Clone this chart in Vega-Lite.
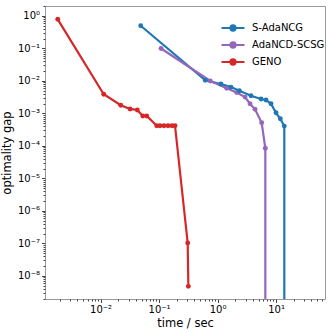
{
  "$schema": "https://vega.github.io/schema/vega-lite/v6.json",
  "autosize": "none",
  "width": 280,
  "height": 293,
  "padding": {"left": 45, "top": 6, "right": 7, "bottom": 33},
  "background": "white",
  "config": {
    "font": "DejaVu Sans",
    "view": {"stroke": "#999", "strokeWidth": 1},
    "axis": {
      "domain": false,
      "grid": false,
      "labelFont": "DejaVu Sans",
      "labelFontSize": 10,
      "labelColor": "#000",
      "titleFont": "DejaVu Sans",
      "titleFontSize": 11.5,
      "titleFontWeight": "normal",
      "titleColor": "#000",
      "tickColor": "#444",
      "labelOverlap": false,
      "labelFlush": false
    },
    "legend": {"labelFont": "DejaVu Sans", "labelFontSize": 10, "labelColor": "#000"}
  },
  "data": {
    "values": [
      {"series": "S-AdaNCG", "i": 1, "time": 0.0485, "gap": 0.5},
      {"series": "S-AdaNCG", "i": 2, "time": 0.616, "gap": 0.0105},
      {"series": "S-AdaNCG", "i": 3, "time": 1.14, "gap": 0.0081},
      {"series": "S-AdaNCG", "i": 4, "time": 1.69, "gap": 0.0065},
      {"series": "S-AdaNCG", "i": 5, "time": 2.35, "gap": 0.005},
      {"series": "S-AdaNCG", "i": 6, "time": 3.72, "gap": 0.0035},
      {"series": "S-AdaNCG", "i": 7, "time": 5.52, "gap": 0.0028},
      {"series": "S-AdaNCG", "i": 8, "time": 6.72, "gap": 0.0026},
      {"series": "S-AdaNCG", "i": 9, "time": 8.18, "gap": 0.002},
      {"series": "S-AdaNCG", "i": 10, "time": 9.96, "gap": 0.00105},
      {"series": "S-AdaNCG", "i": 11, "time": 11.8, "gap": 0.00069},
      {"series": "S-AdaNCG", "i": 12, "time": 13.8, "gap": 0.00041},
      {"series": "S-AdaNCG", "i": 13, "time": 13.8, "gap": 1e-12},
      {"series": "AdaNCD-SCSG", "i": 1, "time": 0.108, "gap": 0.1},
      {"series": "AdaNCD-SCSG", "i": 2, "time": 0.75, "gap": 0.01},
      {"series": "AdaNCD-SCSG", "i": 3, "time": 1.43, "gap": 0.006},
      {"series": "AdaNCD-SCSG", "i": 4, "time": 2.12, "gap": 0.0044},
      {"series": "AdaNCD-SCSG", "i": 5, "time": 2.94, "gap": 0.0032},
      {"series": "AdaNCD-SCSG", "i": 6, "time": 3.58, "gap": 0.002},
      {"series": "AdaNCD-SCSG", "i": 7, "time": 4.36, "gap": 0.00135},
      {"series": "AdaNCD-SCSG", "i": 8, "time": 5.67, "gap": 0.00052},
      {"series": "AdaNCD-SCSG", "i": 9, "time": 6.54, "gap": 0.000085},
      {"series": "AdaNCD-SCSG", "i": 10, "time": 6.54, "gap": 1e-12},
      {"series": "GENO", "i": 1, "time": 0.00185, "gap": 0.79},
      {"series": "GENO", "i": 2, "time": 0.0113, "gap": 0.0039},
      {"series": "GENO", "i": 3, "time": 0.0221, "gap": 0.0018},
      {"series": "GENO", "i": 4, "time": 0.0318, "gap": 0.00138},
      {"series": "GENO", "i": 5, "time": 0.0424, "gap": 0.00128},
      {"series": "GENO", "i": 6, "time": 0.0525, "gap": 0.00084},
      {"series": "GENO", "i": 7, "time": 0.0614, "gap": 0.00084},
      {"series": "GENO", "i": 8, "time": 0.091, "gap": 0.00042},
      {"series": "GENO", "i": 9, "time": 0.1036, "gap": 0.00042},
      {"series": "GENO", "i": 10, "time": 0.121, "gap": 0.00042},
      {"series": "GENO", "i": 11, "time": 0.142, "gap": 0.00042},
      {"series": "GENO", "i": 12, "time": 0.166, "gap": 0.00042},
      {"series": "GENO", "i": 13, "time": 0.187, "gap": 0.00042},
      {"series": "GENO", "i": 14, "time": 0.308, "gap": 1.04e-7},
      {"series": "GENO", "i": 15, "time": 0.316, "gap": 4.8e-9}
    ]
  },
  "encoding": {
    "x": {
      "field": "time",
      "type": "quantitative",
      "scale": {"type": "log", "domain": [0.00112, 68.5], "nice": false},
      "axis": {
        "title": "time / sec",
        "titlePadding": 3,
        "values": [0.002,0.003,0.004,0.005,0.006,0.007,0.008,0.009,0.01,0.02,0.03,0.04,0.05,0.06,0.07,0.08,0.09,0.1,0.2,0.3,0.4,0.5,0.6,0.7,0.8,0.9,1,2,3,4,5,6,7,8,9,10,20,30,40,50,60],
        "labelPadding": 2,
        "tickSize": {"condition": {"test": "abs(log(datum.value)/LN10 - round(log(datum.value)/LN10)) < 0.01", "value": 3.5}, "value": 2},
        "labelExpr": "abs(log(datum.value)/LN10 - round(log(datum.value)/LN10)) < 0.01 ? '10' + replace(replace(replace(replace(replace(replace(replace(replace(replace(replace(replace(toString(round(log(datum.value)/LN10)),'-','⁻'),'0','⁰'),'1','¹'),'2','²'),'3','³'),'4','⁴'),'5','⁵'),'6','⁶'),'7','⁷'),'8','⁸'),'9','⁹') : ''"
      }
    },
    "y": {
      "field": "gap",
      "type": "quantitative",
      "scale": {"type": "log", "domain": [1.96e-9, 2.03], "nice": false},
      "axis": {
        "title": "optimality gap",
        "titlePadding": 5,
        "values": [2e-9,3e-9,4e-9,5e-9,6e-9,7e-9,8e-9,9e-9,1e-8,2e-8,3e-8,4e-8,5e-8,6e-8,7e-8,8e-8,9e-8,1e-7,2e-7,3e-7,4e-7,5e-7,6e-7,7e-7,8e-7,9e-7,1e-6,2e-6,3e-6,4e-6,5e-6,6e-6,7e-6,8e-6,9e-6,1e-5,2e-5,3e-5,4e-5,5e-5,6e-5,7e-5,8e-5,9e-5,1e-4,2e-4,3e-4,4e-4,5e-4,6e-4,7e-4,8e-4,9e-4,0.001,0.002,0.003,0.004,0.005,0.006,0.007,0.008,0.009,0.01,0.02,0.03,0.04,0.05,0.06,0.07,0.08,0.09,0.1,0.2,0.3,0.4,0.5,0.6,0.7,0.8,0.9,1,2],
        "labelPadding": 2,
        "tickSize": {"condition": {"test": "abs(log(datum.value)/LN10 - round(log(datum.value)/LN10)) < 0.01", "value": 3.5}, "value": 2},
        "labelExpr": "abs(log(datum.value)/LN10 - round(log(datum.value)/LN10)) < 0.01 ? '10' + replace(replace(replace(replace(replace(replace(replace(replace(replace(replace(replace(toString(round(log(datum.value)/LN10)),'-','⁻'),'0','⁰'),'1','¹'),'2','²'),'3','³'),'4','⁴'),'5','⁵'),'6','⁶'),'7','⁷'),'8','⁸'),'9','⁹') : ''"
      }
    },
    "color": {
      "field": "series",
      "type": "nominal",
      "scale": {"domain": ["S-AdaNCG", "AdaNCD-SCSG", "GENO"], "range": ["#1f77b4", "#9467bd", "#d62728"]},
      "legend": {
        "title": null,
        "orient": "none",
        "legendX": 181,
        "legendY": 15,
        "symbolType": "M-2,0L2,0M0.44,0A0.44,0.44,0,1,1,-0.44,0A0.44,0.44,0,1,1,0.44,0Z",
        "symbolSize": 132,
        "symbolStrokeWidth": 2.2,
        "labelOffset": 12,
        "rowPadding": 3,
        "encode": {"symbols": {"update": {"fill": {"scale": "color", "field": "value"}, "stroke": {"scale": "color", "field": "value"}, "opacity": {"value": 1}}}}
      }
    },
    "order": {"field": "i", "type": "quantitative"}
  },
  "layer": [
    {"mark": {"type": "line", "strokeWidth": 2.2, "clip": true}},
    {"mark": {"type": "point", "filled": true, "size": 24, "opacity": 1, "clip": true}}
  ]
}
